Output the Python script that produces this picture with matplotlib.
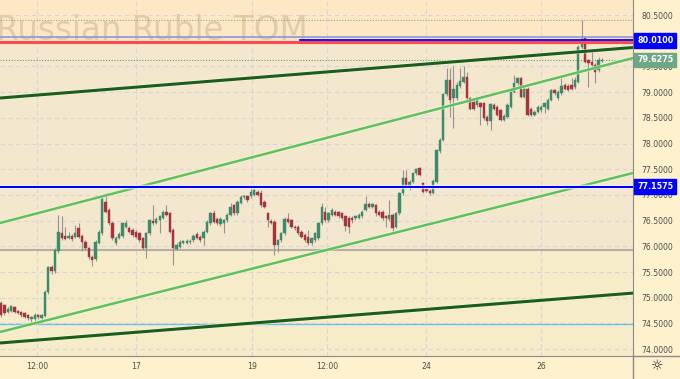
import matplotlib
matplotlib.use('Agg')
import matplotlib.pyplot as plt
import matplotlib.patheffects as pe
from matplotlib.lines import Line2D

# hourly candles
opens = [
    74.89, 74.86, 74.73, 74.75, 74.81, 74.75, 74.73, 74.70, 74.66, 74.58,
    74.58, 74.66, 74.60, 74.64, 75.12, 75.60, 75.51, 75.90, 76.25, 76.20,
    76.17, 76.20, 76.19, 76.35, 76.20, 76.09, 75.96, 75.80, 75.75, 76.07,
    76.25, 76.87, 76.71, 76.46, 76.07, 76.17, 76.20, 76.38, 76.36, 76.32,
    76.28, 76.25, 76.16, 75.96, 76.25, 76.50, 76.46, 76.51, 76.56, 76.67,
    76.64, 76.32, 75.95, 75.99, 76.07, 76.07, 76.08, 76.12, 76.24, 76.19,
    76.16, 76.28, 76.45, 76.64, 76.54, 76.43, 76.45, 76.51, 76.61, 76.80,
    76.64, 76.85, 76.95, 76.97, 76.97, 77.00, 77.06, 77.03, 76.87, 76.64,
    76.50, 76.48, 76.03, 76.12, 76.25, 76.54, 76.51, 76.38, 76.38, 76.28,
    76.22, 76.19, 76.06, 76.12, 76.16, 76.45, 76.67, 76.51, 76.61, 76.67,
    76.66, 76.64, 76.58, 76.55, 76.55, 76.55, 76.56, 76.58, 76.71, 76.82,
    76.77, 76.80, 76.67, 76.67, 76.58, 76.53, 76.61, 76.38, 76.64, 77.03,
    77.32, 77.16, 77.26, 77.42, 77.52, 77.23, 77.11, 77.08, 77.04, 77.26,
    77.85, 78.07, 78.96, 79.24, 78.88, 78.88, 79.11, 79.20, 79.30, 78.88,
    78.81, 78.75, 78.78, 78.78, 78.52, 78.43, 78.75, 78.72, 78.65, 78.46,
    78.52, 78.72, 79.01, 79.17, 79.27, 78.91, 79.07, 78.68, 78.56, 78.62,
    78.65, 78.72, 78.68, 78.85, 79.04, 78.88, 78.98, 79.14, 79.12, 79.14,
    79.09, 79.20, 79.87, 80.05, 79.62, 79.59, 79.53, 79.43, 79.61]
closes = [
    74.66, 74.70, 74.79, 74.83, 74.73, 74.71, 74.66, 74.63, 74.60, 74.62,
    74.66, 74.62, 74.66, 75.12, 75.59, 75.51, 75.93, 76.27, 76.16, 76.15,
    76.20, 76.14, 76.25, 76.19, 76.09, 75.96, 75.80, 75.73, 76.09, 76.28,
    76.93, 76.67, 76.45, 76.16, 76.17, 76.24, 76.45, 76.45, 76.28, 76.22,
    76.19, 76.12, 75.96, 76.25, 76.51, 76.45, 76.54, 76.58, 76.67, 76.61,
    76.28, 75.96, 76.03, 76.09, 76.10, 76.11, 76.11, 76.20, 76.17, 76.12,
    76.28, 76.48, 76.64, 76.48, 76.45, 76.54, 76.51, 76.61, 76.77, 76.64,
    76.87, 76.95, 76.97, 76.90, 77.06, 77.10, 77.00, 76.80, 76.77, 76.51,
    76.46, 76.03, 76.12, 76.25, 76.54, 76.48, 76.38, 76.35, 76.25, 76.19,
    76.12, 76.06, 76.16, 76.25, 76.45, 76.77, 76.51, 76.64, 76.71, 76.61,
    76.59, 76.55, 76.40, 76.38, 76.51, 76.58, 76.61, 76.67, 76.82, 76.77,
    76.82, 76.64, 76.61, 76.55, 76.55, 76.61, 76.35, 76.64, 77.03, 77.32,
    77.16, 77.26, 77.42, 77.50, 77.39, 77.06, 77.08, 77.04, 77.28, 77.87,
    78.07, 78.96, 79.24, 78.85, 79.07, 79.14, 79.22, 79.30, 78.88, 78.68,
    78.68, 78.88, 78.72, 78.49, 78.43, 78.76, 78.68, 78.56, 78.46, 78.54,
    78.75, 79.01, 79.17, 79.27, 78.91, 79.07, 78.56, 78.56, 78.62, 78.72,
    78.72, 78.78, 78.85, 79.04, 78.98, 79.01, 79.11, 79.07, 79.05, 79.07,
    79.24, 79.88, 80.03, 79.59, 79.56, 79.53, 79.40, 79.62, 79.63]
highs = [
    74.93, 74.88, 74.82, 74.86, 74.84, 74.77, 74.75, 74.72, 74.68, 74.65,
    74.70, 74.68, 74.69, 75.15, 75.62, 75.64, 75.97, 76.61, 76.58, 76.38,
    76.27, 76.23, 76.41, 76.45, 76.23, 76.12, 75.99, 75.83, 76.12, 76.32,
    76.96, 77.03, 76.74, 76.49, 76.20, 76.27, 76.48, 76.51, 76.39, 76.35,
    76.31, 76.28, 76.19, 76.28, 76.54, 76.80, 76.57, 76.61, 76.70, 76.80,
    76.67, 76.35, 76.06, 76.12, 76.13, 76.14, 76.14, 76.23, 76.27, 76.22,
    76.31, 76.51, 76.67, 76.71, 76.57, 76.57, 76.54, 76.64, 76.84, 76.83,
    76.90, 77.00, 77.00, 77.00, 77.13, 77.13, 77.09, 77.10, 76.90, 76.67,
    76.53, 76.51, 76.15, 76.28, 76.57, 76.64, 76.54, 76.41, 76.41, 76.31,
    76.25, 76.32, 76.19, 76.28, 76.48, 76.84, 76.77, 76.67, 76.74, 76.70,
    76.69, 76.67, 76.61, 76.58, 76.58, 76.61, 76.64, 76.70, 76.97, 76.87,
    76.85, 76.83, 76.70, 76.70, 76.61, 76.90, 76.64, 76.67, 77.06, 77.49,
    77.49, 77.29, 77.45, 77.52, 77.55, 77.26, 77.14, 77.11, 77.31, 77.90,
    78.10, 78.99, 79.46, 79.46, 79.50, 79.20, 79.46, 79.50, 79.40, 78.91,
    78.84, 78.91, 78.81, 78.81, 78.55, 78.79, 78.78, 78.75, 78.68, 78.57,
    78.78, 79.04, 79.33, 79.30, 79.30, 79.10, 79.10, 78.71, 78.65, 78.75,
    78.75, 78.81, 78.88, 79.07, 79.07, 79.04, 79.27, 79.17, 79.15, 79.27,
    79.30, 79.91, 80.40, 80.08, 79.65, 79.82, 79.56, 79.69, 79.66]
lows = [
    74.62, 74.66, 74.70, 74.72, 74.70, 74.68, 74.63, 74.60, 74.56, 74.49,
    74.55, 74.58, 74.57, 74.62, 75.08, 75.46, 75.48, 75.87, 76.12, 76.12,
    76.14, 76.11, 76.16, 76.16, 75.90, 75.93, 75.76, 75.62, 75.72, 76.04,
    76.22, 76.64, 76.42, 76.13, 76.03, 76.14, 76.17, 76.35, 76.25, 76.19,
    76.16, 76.09, 75.93, 75.77, 76.22, 76.42, 76.43, 76.25, 76.53, 76.58,
    76.25, 75.64, 75.92, 75.96, 76.04, 76.04, 76.05, 76.09, 76.14, 76.09,
    76.03, 76.25, 76.42, 76.45, 76.42, 76.40, 76.25, 76.48, 76.58, 76.61,
    76.61, 76.82, 76.92, 76.87, 76.94, 76.97, 76.97, 76.77, 76.74, 76.38,
    76.43, 75.83, 75.88, 76.09, 76.22, 76.45, 76.35, 76.32, 76.22, 76.16,
    76.09, 76.03, 76.03, 76.09, 76.13, 76.42, 76.48, 76.48, 76.58, 76.58,
    76.56, 76.52, 76.29, 76.25, 76.45, 76.52, 76.53, 76.55, 76.68, 76.74,
    76.74, 76.58, 76.58, 76.52, 76.38, 76.50, 76.25, 76.35, 76.61, 77.00,
    77.13, 77.10, 77.23, 77.39, 77.36, 77.03, 77.05, 77.00, 77.01, 77.23,
    77.82, 78.04, 78.93, 78.52, 78.30, 78.85, 79.08, 79.17, 78.85, 78.65,
    78.65, 78.72, 78.36, 78.46, 78.36, 78.26, 78.65, 78.53, 78.43, 78.43,
    78.49, 78.69, 78.98, 79.14, 78.88, 78.88, 78.53, 78.53, 78.53, 78.59,
    78.62, 78.59, 78.65, 78.82, 78.95, 78.85, 78.95, 79.04, 79.02, 79.04,
    79.06, 79.17, 79.84, 79.56, 79.10, 79.50, 79.17, 79.40, 79.59]

x_tick_pos = [10.7, 40, 74.3, 96.6, 125.9, 160]
x_tick_labels = ['12:00', '17', '19', '12:00', '24', '26']
y_ticks = [74.0, 74.5, 75.0, 75.5, 76.0, 76.5, 77.0, 77.5, 78.0, 78.5, 79.0, 79.5, 80.0, 80.5]
# 80.0000 sits fully under the 80.0100 price tag
y_hidden = [80.0]

# drawn trend lines: (x0, y0, x1, y1) in bar index / price
dark_upper = (-0.3, 78.885, 187.2, 79.868)
dark_lower = (-0.3, 74.119, 187.2, 75.09)
light_upper = (-0.3, 76.453, 187.2, 79.663)
light_lower = (-0.3, 74.333, 187.2, 77.426)

last_price = 79.6275
level_blue_hi = 80.01
level_blue_lo = 77.1575
level_red = 79.975
level_lav = 80.078
level_high = 80.40
level_gray = 75.92
level_ltblue = 74.49

W, H = 680, 379
fig = plt.figure(figsize=(6.8, 3.79), dpi=100, facecolor='#fef1cd')
ax = fig.add_axes([0, 1 - 356 / H, 633 / W, 356 / H])
ax.set_facecolor('#f3e7cd')
ax.set_xlim(-0.3, 187.2)
ax.set_ylim(73.866, 80.792)

ax.axhspan(level_lav, 81.5, color='#fde8c6', zorder=0, lw=0)
ax.axhspan(73.0, level_gray, color='#f6ecca', zorder=0, lw=0)

for y in y_ticks:
    ax.axhline(y, color='#d9d4d6', lw=0.8, ls=(0, (4, 3)), zorder=1)
for x in x_tick_pos:
    ax.axvline(x, color='#d9d4d6', lw=0.8, ls=(0, (4, 3)), zorder=1)

ax.text(-4 / W, 1 - 40 / H, 'Russian Ruble TOM', transform=fig.transFigure,
        fontsize=23.5, color='#e0cbab', va='baseline', ha='left', zorder=1.5)

# horizontal levels
ax.axhline(level_high, color='#a59c8c', lw=0.8, ls=(0, (1, 1.5)), zorder=2)
ax.axhline(last_price, color='#5f9f7a', lw=0.8, ls=(0, (1, 1.5)), zorder=2)
ax.axhline(level_gray, color='#b7afa4', lw=1.5, zorder=2)
ax.axhline(level_ltblue, color='#72bfe8', lw=1.0, zorder=2)

# candles
n = len(opens)
idx = list(range(n))
up_c, dn_c = '#3d8b6d', '#a5343c'
cols = [up_c if c >= o else dn_c for o, c in zip(opens, closes)]
bottoms = [min(o, c) for o, c in zip(opens, closes)]
heights = [max(abs(c - o), 0.02) for o, c in zip(opens, closes)]
ax.vlines(idx, lows, highs, color='#949494', lw=0.8, zorder=3)
ax.bar(idx, heights, bottom=bottoms, width=0.7, color=cols, edgecolor=cols,
       lw=0.3, zorder=4)

halo = [pe.Stroke(linewidth=3.2, foreground='white', alpha=0.7), pe.Normal()]
for ln, col, lw in [(light_upper, '#5ec15e', 1.8), (light_lower, '#5ec15e', 1.8),
                    (dark_upper, '#1b5e1b', 2.2), (dark_lower, '#1b5e1b', 2.2)]:
    ax.plot([ln[0], ln[2]], [ln[1], ln[3]], color=col, lw=lw, zorder=5,
            solid_capstyle='butt',
            path_effects=[pe.Stroke(linewidth=lw + 1.0, foreground='#fffbe8', alpha=0.6), pe.Normal()])

ax.axhline(level_lav, color='#8c8cdc', lw=1.1, zorder=6)
ax.axhline(level_red, color='#ff4a4a', lw=2.2, zorder=6)
ax.plot([88.6, 187.2], [level_blue_hi, level_blue_hi], color='#0000ff', lw=1.3, zorder=7)
ax.axhline(level_blue_lo, color='#0000ff', lw=1.5, zorder=7, path_effects=halo)

# axes
for s in ['top', 'left']:
    ax.spines[s].set_visible(False)
ax.spines['right'].set_color('#8a8a8a')
ax.spines['bottom'].set_color('#8a8a8a')
ax.yaxis.tick_right()
ax.set_yticks(y_ticks)
ax.set_yticklabels(['' if v in y_hidden else f'{v:.4f}' for v in y_ticks])
ax.tick_params(axis='y', length=0, pad=6, labelsize=5.6, labelcolor='#4d4d4d')
ax.set_xticks(x_tick_pos)
ax.set_xticklabels(x_tick_labels)
ax.tick_params(axis='x', length=0, pad=4.5, labelsize=5.6, labelcolor='#4d4d4d')

fig.add_artist(Line2D([633 / W, 633 / W], [0, 1 - 356 / H], color='#8a8a8a', lw=1))
fig.add_artist(Line2D([633 / W, 1], [1 - 356 / H, 1 - 356 / H], color='#8a8a8a', lw=1))

tr = ax.get_yaxis_transform()
for val, bg in [(level_blue_hi, '#0000ff'), (last_price, '#6ea785'), (level_blue_lo, '#0000ff')]:
    ax.text(1.0 + 4 / 633, val, f'{val:.4f}', transform=tr, ha='left', va='center',
            fontsize=5.8, fontweight='bold', color='white', zorder=10, clip_on=False,
            bbox=dict(boxstyle='square,pad=0.35', fc=bg, ec=bg))

fig.text(657 / W, 1 - 366 / H, '☼', ha='center', va='center', fontsize=10, color='#222222')

fig.savefig('out.png', dpi=100, facecolor=fig.get_facecolor())
